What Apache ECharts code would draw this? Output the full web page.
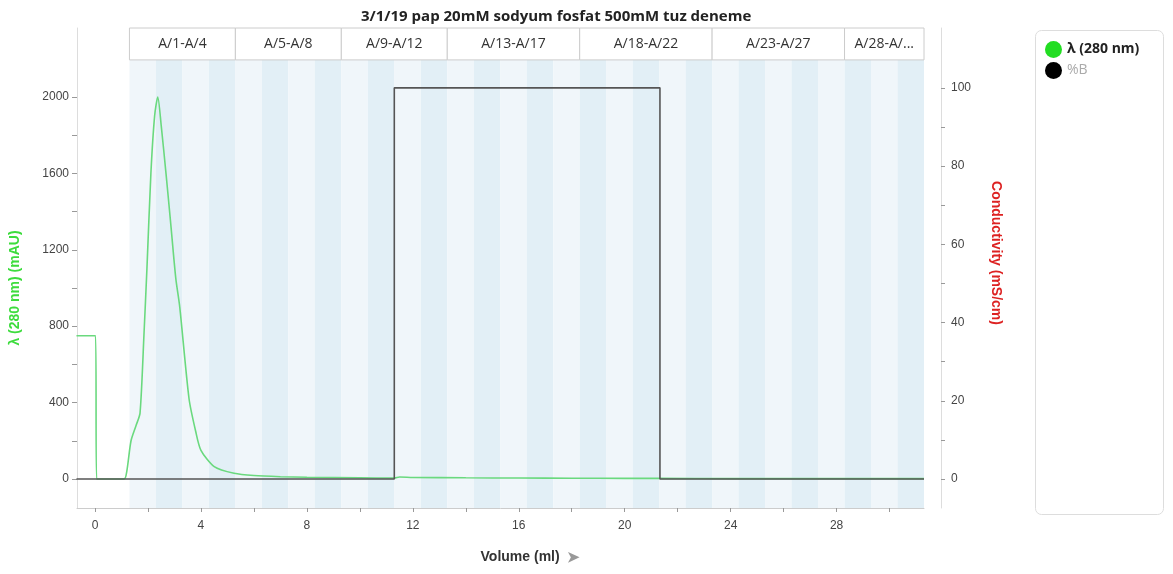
<!DOCTYPE html>
<html>
<head>
    <meta http-equiv="content-type" content="text/html;charset=utf-8" />
    <title>Chromatogram</title>
    <script src="https://cdn.jsdelivr.net/npm/echarts@6/dist/echarts.min.js"></script>
    <style type="text/css">
        * { margin: 0; padding: 0 }
        html, body { background: #fff; font-family: "Open Sans", "Noto Sans", sans-serif; }
        #chart { width: 1173px; height: 574px; }
    </style>
</head>
<body>
<div id="chart"></div>
<script>
    // UV 280 nm trace [volume ml, mAU]
    var uvData = [
        [-0.7, 750], [0.02, 750], [0.06, 0], [1.1, 0], [1.2, 40], [1.36, 200], [1.55, 280], [1.7, 345],
        [1.85, 760], [1.96, 1100], [2.11, 1600], [2.25, 1900], [2.37, 2000], [2.5, 1850], [2.68, 1600],
        [2.85, 1350], [3.05, 1050], [3.2, 900], [3.55, 420], [3.8, 250], [4.0, 150], [4.5, 65],
        [5.25, 30], [6, 18], [7, 12], [8, 9], [10, 6], [11.3, 5], [11.5, 10], [12, 8], [14, 6],
        [16, 5], [18, 4], [20, 3], [21.3, 3], [24, 2], [28, 2], [31.3, 2]
    ];
    // %B step gradient [volume ml, %]
    var bData = [[-0.7, 0], [11.3, 0], [11.3, 100], [21.33, 100], [21.33, 0], [31.3, 0]];

    // fraction collection
    var fractionLabels = ['A/1-A/4', 'A/5-A/8', 'A/9-A/12', 'A/13-A/17', 'A/18-A/22', 'A/23-A/27', 'A/28-A/...'];
    var fractionEdges = [1.3, 5.3, 9.3, 13.3, 18.3, 23.3, 28.3, 31.3];
    var tubeStart = 1.3;
    var tubeCount = 30;

    var xLabelValues = [0, 4, 8, 12, 16, 20, 24, 28];
    var xTickValues = [0, 2, 4, 6, 8, 10, 12, 14, 16, 18, 20, 22, 24, 26, 28, 30];
    var uvLabelValues = [0, 400, 800, 1200, 1600, 2000];
    var uvTickValues = [0, 200, 400, 600, 800, 1000, 1200, 1400, 1600, 1800, 2000];
    var condLabelValues = [0, 20, 40, 60, 80, 100];
    var condTickValues = [0, 10, 20, 30, 40, 50, 60, 70, 80, 90, 100];

    var yMin = -152, yMax = 2361, headerBottom = 2194;

    var stripes = [];
    for (var i = 0; i < tubeCount; i++) {
        stripes.push([
            { xAxis: tubeStart + i, yAxis: yMin, itemStyle: { color: i % 2 == 0 ? '#f0f6fa' : '#e2eff6' } },
            { xAxis: tubeStart + i + 1, yAxis: headerBottom }
        ]);
    }
    var headers = [];
    for (var j = 0; j < fractionLabels.length; j++) {
        headers.push([
            { name: fractionLabels[j], xAxis: fractionEdges[j], yAxis: headerBottom },
            { xAxis: fractionEdges[j + 1], yAxis: yMax }
        ]);
    }

    function plain(v) { return String(v); }

    var chart = echarts.init(document.getElementById('chart'));
    var option = {
        animation: false,
        title: {
            text: '3/1/19 pap 20mM sodyum fosfat 500mM tuz deneme',
            left: 356, top: 4,
            textStyle: { fontSize: 15, fontWeight: 'bold', color: '#222', fontFamily: 'Open Sans' }
        },
        legend: {
            orient: 'vertical', left: 1040, top: 36, itemGap: 4,
            icon: 'circle', itemWidth: 17, itemHeight: 17,
            data: [
                { name: 'λ (280 nm)', textStyle: { fontWeight: 'bold', color: '#222', fontSize: 14 } },
                { name: '%B', textStyle: { color: '#aaa', fontSize: 14 } }
            ],
            textStyle: { fontFamily: 'Open Sans' }
        },
        graphic: [{
            type: 'rect', left: 1033, top: 28,
            shape: { width: 128, height: 484, r: 6 },
            style: { fill: 'none', stroke: '#ddd', lineWidth: 1 }
        }],
        grid: { left: 75, right: 249, top: 28, bottom: 66 },
        xAxis: {
            type: 'value', min: -0.68, max: 31.3,
            name: 'Volume (ml)  {arr|➤}', nameLocation: 'middle', nameGap: 42,
            nameTextStyle: {
                fontSize: 14, fontWeight: 'bold', color: '#333', padding: [0, 0, 0, 60],
                rich: { arr: { color: '#999', fontSize: 15 } }
            },
            splitLine: { show: false },
            axisLine: { onZero: false, lineStyle: { color: '#ccc' } },
            axisTick: { customValues: xTickValues, length: 4, lineStyle: { color: '#999' } },
            axisLabel: { customValues: xLabelValues, formatter: plain, color: '#444', fontSize: 12, margin: 12 }
        },
        yAxis: [{
            type: 'value', min: yMin, max: yMax,
            name: 'λ (280 nm) (mAU)', nameLocation: 'middle', nameGap: 55,
            nameTextStyle: { color: '#3ddc3d', fontWeight: 'bold', fontSize: 14, padding: [0, 0, 0, -40] },
            splitLine: { show: false },
            axisLine: { show: true, onZero: false, lineStyle: { color: '#ddd' } },
            axisTick: { show: true, customValues: uvTickValues, length: 5, lineStyle: { color: '#999' } },
            axisLabel: { customValues: uvLabelValues, formatter: plain, color: '#444', fontSize: 12, margin: 8 }
        }, {
            type: 'value', min: -7.42, max: 115.3, position: 'right', offset: 17,
            name: 'Conductivity (mS/cm)', nameLocation: 'middle', nameGap: 48, nameRotate: -90,
            nameTextStyle: { color: '#dd2222', fontWeight: 'bold', fontSize: 14, padding: [0, 0, 0, -30] },
            splitLine: { show: false },
            axisLine: { show: true, onZero: false, lineStyle: { color: '#ddd' } },
            axisTick: { show: true, customValues: condTickValues, length: 4, lineStyle: { color: '#999' } },
            axisLabel: { customValues: condLabelValues, formatter: plain, color: '#444', fontSize: 12, margin: 10 }
        }],
        series: [{
            name: 'fractions', type: 'line', data: [], silent: true, z: 0,
            markArea: { silent: true, data: stripes }
        }, {
            name: 'headers', type: 'line', data: [], silent: true, z: 1,
            markArea: {
                silent: true,
                itemStyle: { color: '#fff', borderColor: '#ccc', borderWidth: 1 },
                label: { position: 'inside', color: '#333', fontSize: 14, fontFamily: 'Open Sans' },
                data: headers
            }
        }, {
            name: 'λ (280 nm)', type: 'line', data: uvData, symbol: 'none', z: 3, smooth: 0.25,
            itemStyle: { color: '#22dd22' },
            lineStyle: { color: '#6ad97e', width: 1.6 }
        }, {
            name: '%B', type: 'line', data: bData, yAxisIndex: 1, symbol: 'none', z: 4,
            itemStyle: { color: '#000' },
            lineStyle: { color: '#555', width: 1.6 }
        }]
    };
    chart.setOption(option);
</script>
</body>
</html>
